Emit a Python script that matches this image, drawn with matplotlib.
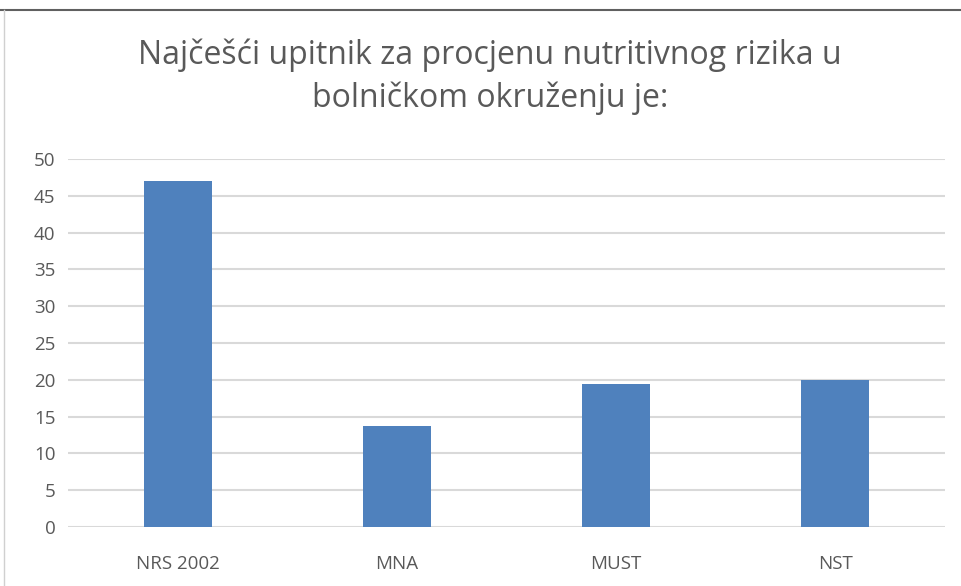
import matplotlib.pyplot as plt
from matplotlib.lines import Line2D

### data
categories = ['NRS 2002', 'MNA', 'MUST', 'NST']
values = [47, 13.7, 19.4, 20]
yticks = [0, 5, 10, 15, 20, 25, 30, 35, 40, 45, 50]
title = 'Najčešći upitnik za procjenu nutritivnog rizika u\nbolničkom okruženju je:'

plt.rcParams['font.family'] = ['Open Sans', 'DejaVu Sans']
textColor = '#595959'
gridColor = '#d9d9d9'

fig = plt.figure(figsize=(9.61, 5.86), dpi=100)
ax = fig.add_axes([0.0708, 0.1007, 0.9122, 0.628])

ax.bar(range(len(categories)), values, width=0.31, color='#4f81bd', zorder=3)
ax.set_xlim(-0.5, len(categories) - 0.5)
ax.set_ylim(0, 50)
ax.set_yticks(yticks)
ax.set_xticks(range(len(categories)))
ax.set_xticklabels(categories)
ax.grid(axis='y', color=gridColor, linewidth=1.5, zorder=0)
for s in ax.spines.values():
    s.set_visible(False)
ax.tick_params(length=0, colors=textColor, labelsize=13.5)
ax.tick_params(axis='x', pad=20)
ax.tick_params(axis='y', pad=9)

fig.text(0.51, 0.869, title, ha='center', va='center', fontsize=23,
         color=textColor, linespacing=1.35)

# chart border remnants (top + left edge)
fig.add_artist(Line2D([0, 1], [1 - 10/586, 1 - 10/586], color='#606060', linewidth=1.5))
fig.add_artist(Line2D([4/961, 4/961], [0, 1 - 10/586], color='#d0d0d0', linewidth=1))

fig.savefig('out.png', dpi=100)
